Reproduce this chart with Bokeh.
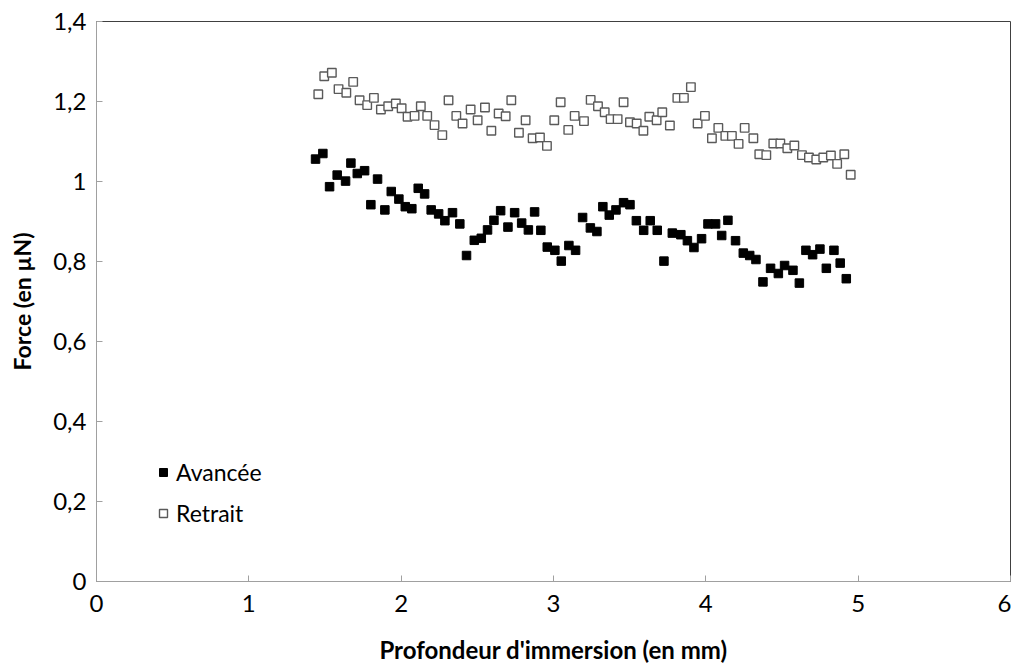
from bokeh.plotting import figure
from bokeh.models import Legend, LegendItem, FixedTicker, CustomJSTickFormatter, Range1d
from bokeh.embed import file_html
from bokeh.resources import INLINE

# Profondeur d'immersion (mm) et force (µN)
avance_x = [1.438, 1.486, 1.530, 1.580, 1.635, 1.670, 1.712, 1.760, 1.801, 1.845,
            1.893, 1.935, 1.985, 2.027, 2.070, 2.112, 2.154, 2.197, 2.246, 2.287,
            2.337, 2.385, 2.429, 2.480, 2.526, 2.567, 2.609, 2.653, 2.701, 2.745,
            2.791, 2.835, 2.876, 2.917, 2.959, 3.009, 3.051, 3.101, 3.145, 3.191,
            3.242, 3.285, 3.324, 3.366, 3.410, 3.460, 3.502, 3.544, 3.592, 3.635,
            3.681, 3.725, 3.780, 3.836, 3.879, 3.922, 3.972, 4.014, 4.064, 4.104,
            4.145, 4.195, 4.246, 4.288, 4.329, 4.375, 4.425, 4.476, 4.517, 4.572,
            4.614, 4.657, 4.701, 4.749, 4.791, 4.841, 4.882, 4.922]
avance_y = [1.056, 1.070, 0.987, 1.016, 1.001, 1.046, 1.020, 1.027, 0.942, 1.006,
            0.929, 0.975, 0.956, 0.937, 0.932, 0.983, 0.969, 0.929, 0.919, 0.902,
            0.922, 0.894, 0.815, 0.853, 0.858, 0.879, 0.903, 0.927, 0.886, 0.922,
            0.896, 0.879, 0.924, 0.878, 0.836, 0.828, 0.801, 0.840, 0.828, 0.910,
            0.884, 0.875, 0.937, 0.916, 0.929, 0.947, 0.942, 0.902, 0.878, 0.902,
            0.878, 0.801, 0.871, 0.867, 0.852, 0.835, 0.857, 0.894, 0.894, 0.865,
            0.903, 0.852, 0.821, 0.815, 0.805, 0.749, 0.783, 0.770, 0.790, 0.778,
            0.746, 0.828, 0.817, 0.831, 0.783, 0.828, 0.796, 0.757]

retrait_x = [1.456, 1.495, 1.545, 1.589, 1.640, 1.685, 1.727, 1.777, 1.821, 1.867,
             1.915, 1.965, 2.003, 2.042, 2.088, 2.129, 2.171, 2.219, 2.270, 2.311,
             2.362, 2.403, 2.456, 2.502, 2.550, 2.592, 2.640, 2.686, 2.723, 2.773,
             2.817, 2.863, 2.911, 2.957, 3.005, 3.047, 3.097, 3.139, 3.200, 3.244,
             3.292, 3.336, 3.375, 3.421, 3.460, 3.502, 3.546, 3.590, 3.629, 3.677,
             3.714, 3.764, 3.813, 3.856, 3.902, 3.946, 3.994, 4.040, 4.082, 4.128,
             4.171, 4.215, 4.255, 4.312, 4.351, 4.397, 4.443, 4.489, 4.535, 4.581,
             4.631, 4.677, 4.725, 4.771, 4.821, 4.862, 4.909, 4.951]
retrait_y = [1.218, 1.263, 1.272, 1.231, 1.222, 1.249, 1.203, 1.191, 1.209, 1.180,
             1.188, 1.195, 1.183, 1.162, 1.164, 1.188, 1.164, 1.141, 1.116, 1.203,
             1.164, 1.145, 1.180, 1.153, 1.185, 1.127, 1.170, 1.163, 1.203, 1.122,
             1.153, 1.108, 1.110, 1.089, 1.153, 1.198, 1.129, 1.164, 1.151, 1.204,
             1.188, 1.173, 1.156, 1.156, 1.198, 1.148, 1.145, 1.127, 1.162, 1.153,
             1.173, 1.140, 1.209, 1.209, 1.236, 1.145, 1.164, 1.108, 1.134, 1.114,
             1.114, 1.094, 1.134, 1.108, 1.068, 1.066, 1.095, 1.095, 1.083, 1.090,
             1.066, 1.060, 1.055, 1.060, 1.065, 1.044, 1.068, 1.017]

x_ticks = [0, 1, 2, 3, 4, 5, 6]
y_ticks = [0, 0.2, 0.4, 0.6, 0.8, 1.0, 1.2, 1.4]

FONT = "Lato"

p = figure(width=1011, height=666, output_backend="svg", toolbar_location=None,
           x_range=Range1d(0, 6), y_range=Range1d(0, 1.4),
           min_border_left=96, min_border_top=21, min_border_right=1,
           min_border_bottom=83)

p.background_fill_color = "white"
p.border_fill_color = "white"
p.outline_line_color = "#404040"
p.outline_line_width = 1
p.xgrid.visible = False
p.ygrid.visible = False

r_av = p.scatter(avance_x, avance_y, marker="square", size=8.5,
                 fill_color="black", line_color="black", line_width=1)
r_re = p.scatter(retrait_x, retrait_y, marker="square", size=8.5,
                 fill_color="white", line_color="#5a5a5a", line_width=1.4)

for ax in (p.xaxis[0], p.yaxis[0]):
    ax.axis_line_color = "#a0a0a0"
    ax.axis_line_width = 1
    ax.major_tick_line_color = "#a0a0a0"
    ax.major_tick_in = 6
    ax.major_tick_out = 0
    ax.minor_tick_line_color = None
    ax.major_label_text_font = FONT
    ax.major_label_text_font_size = "24px"
    ax.major_label_text_color = "black"
    ax.major_label_text_line_height = 1.0
    ax.axis_label_text_font = FONT
    ax.axis_label_text_font_size = "23px"
    ax.axis_label_text_font_style = "bold"
    ax.axis_label_text_color = "black"
    ax.axis_label_text_line_height = 1.0

p.xaxis[0].ticker = FixedTicker(ticks=x_ticks)
p.yaxis[0].ticker = FixedTicker(ticks=y_ticks)
p.yaxis[0].formatter = CustomJSTickFormatter(
    code="var r = Math.round(tick*10)/10; return r.toString().replace('.', ',');")
p.xaxis[0].major_label_standoff = 13
p.yaxis[0].major_label_standoff = 10
p.xaxis[0].axis_label = "Profondeur d'immersion (en mm)"
p.yaxis[0].axis_label = "Force (en µN)"
p.xaxis[0].axis_label_text_font_size = "24px"
p.xaxis[0].axis_label_standoff = 20
p.yaxis[0].axis_label_standoff = 14

legend = Legend(items=[LegendItem(label="Avancée", renderers=[r_av]),
                       LegendItem(label="Retrait", renderers=[r_re])],
                location=(57, 54), orientation="vertical",
                glyph_width=20, glyph_height=20, label_height=20,
                label_standoff=3, spacing=13, padding=0, margin=0,
                border_line_color=None, background_fill_alpha=0,
                label_text_font=FONT, label_text_font_size="23px",
                label_text_color="black")
p.add_layout(legend, "center")

open("out.html", "w").write(file_html(p, INLINE))
